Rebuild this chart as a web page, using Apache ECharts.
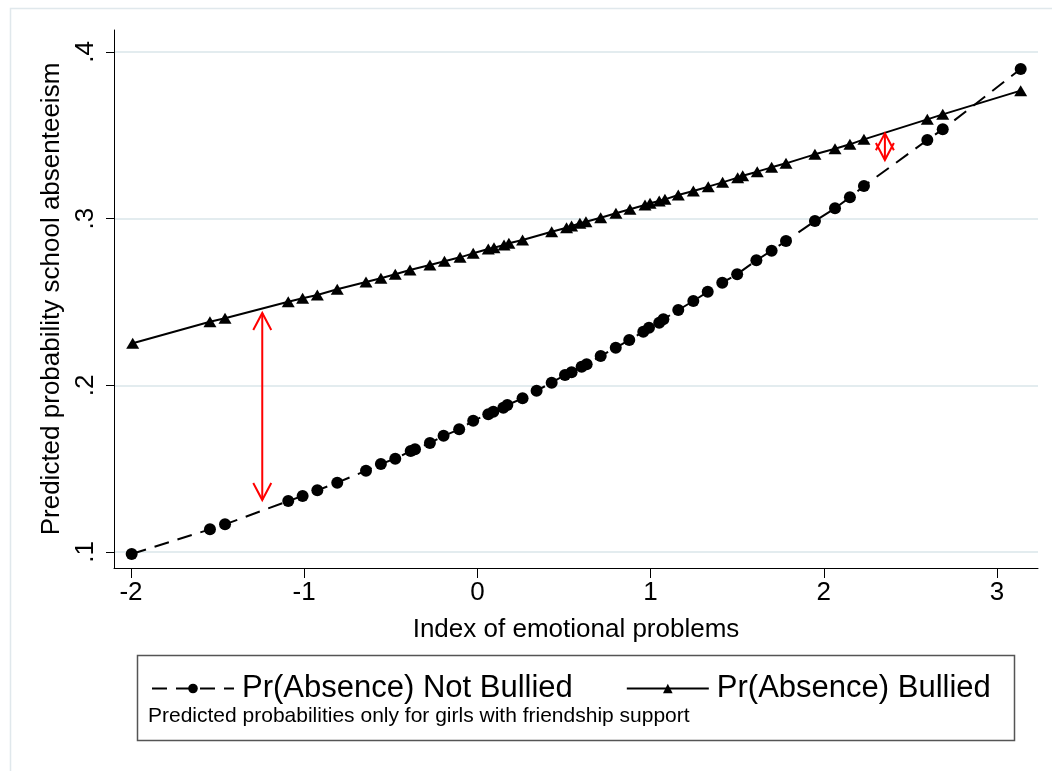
<!DOCTYPE html>
<html><head><meta charset="utf-8">
<script src="https://cdn.jsdelivr.net/npm/echarts@6/dist/echarts.min.js"></script>
<style>html,body{margin:0;padding:0;background:#fff}#c{width:1052px;height:771px}</style>
</head><body><div id="c"></div><script>
const xTicks = [-2, -1, 0, 1, 2, 3];
const yTicks = [0.1, 0.2, 0.3, 0.4];

const notBulliedX = [-1.996, -1.544, -1.457, -1.092, -1.009, -0.924, -0.809, -0.643, -0.557, -0.474, -0.385, -0.360, -0.274, -0.195, -0.105, -0.024, 0.063, 0.092, 0.150, 0.173, 0.261, 0.342, 0.429, 0.506, 0.544, 0.602, 0.631, 0.712, 0.799, 0.877, 0.958, 0.991, 1.050, 1.074, 1.160, 1.247, 1.330, 1.414, 1.500, 1.611, 1.699, 1.782, 1.949, 2.065, 2.151, 2.232, 2.598, 2.687, 3.137];
const notBulliedY = [0.0988, 0.1136, 0.1166, 0.1306, 0.1336, 0.1370, 0.1416, 0.1488, 0.1528, 0.1560, 0.1606, 0.1616, 0.1654, 0.1697, 0.1736, 0.1787, 0.1827, 0.1842, 0.1866, 0.1882, 0.1922, 0.1968, 0.2016, 0.2062, 0.2078, 0.2112, 0.2126, 0.2176, 0.2226, 0.2272, 0.2322, 0.2346, 0.2376, 0.2396, 0.2452, 0.2506, 0.2561, 0.2616, 0.2667, 0.2750, 0.2808, 0.2866, 0.2986, 0.3062, 0.3128, 0.3196, 0.3472, 0.3536, 0.3898];

const bulliedX = [-1.990, -1.544, -1.457, -1.092, -1.009, -0.924, -0.809, -0.643, -0.557, -0.474, -0.389, -0.274, -0.190, -0.100, -0.024, 0.063, 0.096, 0.154, 0.182, 0.261, 0.429, 0.515, 0.544, 0.592, 0.627, 0.712, 0.800, 0.881, 0.968, 0.997, 1.050, 1.083, 1.160, 1.247, 1.333, 1.416, 1.503, 1.532, 1.616, 1.699, 1.782, 1.949, 2.065, 2.151, 2.232, 2.598, 2.687, 3.137];
const bulliedY = [0.2252, 0.2382, 0.2402, 0.2502, 0.2522, 0.2542, 0.2576, 0.2620, 0.2642, 0.2666, 0.2692, 0.2722, 0.2744, 0.2768, 0.2792, 0.2818, 0.2826, 0.2842, 0.2852, 0.2872, 0.2922, 0.2946, 0.2956, 0.2972, 0.2982, 0.3006, 0.3032, 0.3056, 0.3082, 0.3092, 0.3106, 0.3116, 0.3142, 0.3166, 0.3192, 0.3218, 0.3246, 0.3258, 0.3282, 0.3308, 0.3332, 0.3386, 0.3420, 0.3446, 0.3476, 0.3596, 0.3626, 0.3768];

const arrowX = [-1.242, 2.353];
const arrowTop = [0.2434, 0.3512];
const arrowBottom = [0.1312, 0.3352];

const seriesNames = ['Pr(Absence) Not Bullied', 'Pr(Absence) Bullied'];
const noteText = 'Predicted probabilities only for girls with friendship support';
const xTitle = 'Index of emotional problems';
const yTitle = 'Predicted probability school absenteeism';

const FONT = '"Liberation Sans", Arial, sans-serif';
const chart = echarts.init(document.getElementById('c'), null, {renderer: 'canvas'});

const nb = notBulliedX.map((x, i) => [x, notBulliedY[i]]);
const bu = bulliedX.map((x, i) => [x, bulliedY[i]]);
const arrows = arrowX.map((x, i) => [x, arrowTop[i], arrowBottom[i]]);

function fmtY(v) { return String(+v.toFixed(2)).replace(/^0\./, '.'); }

chart.setOption({
  backgroundColor: '#fff',
  animation: false,
  grid: {left: 114, top: 30, width: 924, height: 538, containLabel: false},
  xAxis: {
    type: 'value', min: -2.098, max: 3.237,
    axisLine: {show: true, onZero: false, lineStyle: {color: '#000', width: 1}},
    axisTick: {show: true, length: 10, customValues: xTicks, lineStyle: {color: '#000'}},
    axisLabel: {customValues: xTicks, fontFamily: FONT, fontSize: 26, color: '#000', margin: 12,
      formatter: v => String(v)},
    splitLine: {show: false},
    name: xTitle, nameLocation: 'middle', nameGap: 49,
    nameTextStyle: {fontFamily: FONT, fontSize: 26, color: '#000'}
  },
  yAxis: {
    type: 'value', min: 0.0904, max: 0.4132,
    axisLine: {show: true, onZero: false, lineStyle: {color: '#000', width: 1}},
    axisTick: {show: true, length: 8, customValues: yTicks, lineStyle: {color: '#000'}},
    axisLabel: {customValues: yTicks, fontFamily: FONT, fontSize: 26, color: '#000', margin: 15,
      rotate: 90, formatter: fmtY},
    splitLine: {show: true, lineStyle: {color: '#e3ecef', width: 2}},
    name: yTitle, nameLocation: 'middle', nameGap: 43, nameRotate: 90,
    nameTextStyle: {fontFamily: FONT, fontSize: 26, color: '#000'}
  },
  legend: {
    show: true, left: 146, top: 668, itemWidth: 82, itemHeight: 12, itemGap: 53,
    data: seriesNames,
    textStyle: {fontFamily: FONT, fontSize: 31, color: '#000', padding: [0, 0, 0, 3]}
  },
  series: [
    {
      name: seriesNames[0], type: 'line', data: nb, symbol: 'circle', symbolSize: 12,
      itemStyle: {color: '#000'},
      lineStyle: {color: '#000', width: 2, type: [15, 9]}, z: 3
    },
    {
      name: seriesNames[1], type: 'line', data: bu, symbol: 'triangle', symbolSize: [13, 11],
      itemStyle: {color: '#000'},
      lineStyle: {color: '#000', width: 2, type: 'solid'}, z: 3
    },
    {
      type: 'custom', data: arrows, z: 5, silent: true,
      encode: {x: 0, y: [1, 2]},
      renderItem: function (params, api) {
        const t = api.coord([api.value(0), api.value(1)]);
        const b = api.coord([api.value(0), api.value(2)]);
        const dx = 9, dy = 17;
        const st = {stroke: '#ff0000', lineWidth: 2, fill: 'none'};
        return {type: 'group', children: [
          {type: 'line', shape: {x1: t[0], y1: t[1], x2: b[0], y2: b[1]}, style: st},
          {type: 'polyline', shape: {points: [[t[0] - dx, t[1] + dy], [t[0], t[1]], [t[0] + dx, t[1] + dy]]}, style: st},
          {type: 'polyline', shape: {points: [[b[0] - dx, b[1] - dy], [b[0], b[1]], [b[0] + dx, b[1] - dy]]}, style: st}
        ]};
      }
    }
  ],
  graphic: [
    {type: 'rect', shape: {x: 10.5, y: 8.5, width: 1100, height: 800}, style: {fill: 'none', stroke: '#e0e8ec', lineWidth: 1.5}, z: -10},
    {type: 'rect', shape: {x: 137.5, y: 655.5, width: 877, height: 85}, style: {fill: 'none', stroke: '#555', lineWidth: 1.5}, z: 10},
    {type: 'text', left: 148, top: 706, style: {text: noteText, font: '21px ' + FONT, fill: '#000'}, z: 10}
  ]
});
</script></body></html>
